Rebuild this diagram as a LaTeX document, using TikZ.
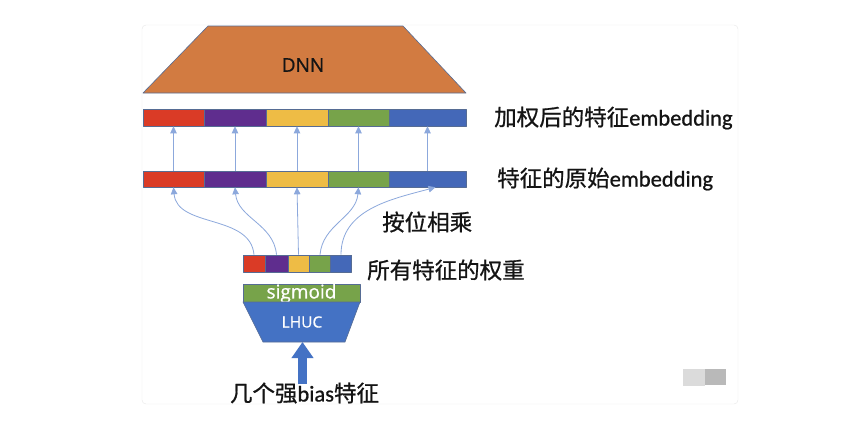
\documentclass[tikz,border=0pt]{standalone}
\usepackage{fontspec}
\setmainfont{Carlito}[FakeBold=0.8]
\newfontfamily\cjk{Noto Sans CJK SC}[FakeBold=0.8]
\newfontfamily\osans{Open Sans}[FakeBold=0.8]
\usepackage{tikz}
\usetikzlibrary{arrows.meta}

\definecolor{dnnorange}{HTML}{D27B41}
\definecolor{segred}{HTML}{DA3B26}
\definecolor{segpurple}{HTML}{5F2D8E}
\definecolor{segyellow}{HTML}{EEBC45}
\definecolor{seggreen}{HTML}{77A34A}
\definecolor{segblue}{HTML}{4468B8}
\definecolor{lhucblue}{HTML}{4472C4}
\definecolor{edgeblue}{HTML}{566C94}
\definecolor{wireblue}{HTML}{8CA8DC}

\tikzset{
  seg/.style={draw=edgeblue, line width=0.6pt, inner sep=0pt, minimum height=#1},
  seg/.default=17pt,
  wire/.style={wireblue, line width=0.8pt, -{Triangle[length=7pt, width=6.5pt]}},
  label/.style={anchor=west, inner sep=0pt, font=\fontsize{22.5pt}{24pt}\selectfont, text=black!92}
}

\begin{document}
\begin{tikzpicture}[x=1pt, y=-1pt, line join=round]
  \useasboundingbox[fill=white] (0,0) rectangle (849,424);
  \draw[gray!18, fill=white, rounded corners=4pt] (142,25) rectangle (738,404);

  % DNN block
  \draw[edgeblue, line width=0.6pt, fill=dnnorange] (208,26) -- (403,26) -- (466,93) -- (143,93) -- cycle;
  \node[text=black!92] (dnn) at (303,65) {\osans\fontsize{19pt}{20pt}\selectfont DNN};

  % weighted embedding
  \node[seg, fill=segred,    minimum width=61pt] (w1) at (173.5,117.5) {};
  \node[seg, fill=segpurple, minimum width=62pt] (w2) at (235,117.5) {};
  \node[seg, fill=segyellow, minimum width=62pt] (w3) at (297,117.5) {};
  \node[seg, fill=seggreen,  minimum width=61pt] (w4) at (358.5,117.5) {};
  \node[seg, fill=segblue,   minimum width=77pt] (w5) at (427.5,117.5) {};

  % original embedding
  \node[seg=16pt, fill=segred,    minimum width=61pt] (o1) at (173.5,179) {};
  \node[seg=16pt, fill=segpurple, minimum width=62pt] (o2) at (235,179) {};
  \node[seg=16pt, fill=segyellow, minimum width=62pt] (o3) at (297,179) {};
  \node[seg=16pt, fill=seggreen,  minimum width=61pt] (o4) at (358.5,179) {};
  \node[seg=16pt, fill=segblue,   minimum width=77pt] (o5) at (427.5,179) {};

  % feature weights
  \node[seg, fill=segred,    minimum width=22pt] (g1) at (254,263.5) {};
  \node[seg, fill=segpurple, minimum width=23pt] (g2) at (276.5,263.5) {};
  \node[seg, fill=segyellow, minimum width=21pt] (g3) at (298.5,263.5) {};
  \node[seg, fill=seggreen,  minimum width=21pt] (g4) at (320,263.5) {};
  \node[seg, fill=segblue,   minimum width=21pt] (g5) at (341,263.5) {};

  % sigmoid + LHUC
  \node[seg=18pt, fill=seggreen, minimum width=117pt] (sig) at (301.5,293) {};
  \node[text=white] at ([yshift=-0.5pt]sig.center) {\osans\fontsize{19pt}{20pt}\selectfont sigmoid};
  \draw[edgeblue, line width=0.6pt, fill=lhucblue] (243,302) -- (360,302) -- (345,342) -- (263,342) -- cycle;
  \node[text=white] (lhuc) at (302,322) {\osans\fontsize{15.5pt}{16pt}\selectfont LHUC};
  \coordinate (lhucin) at (302.5,342);

  % strong bias input
  \node[inner sep=0pt, font=\fontsize{22.5pt}{24pt}\selectfont, text=black!92] (bias) at (304.5,393) {{\cjk 几个强}bias{\cjk 特征}};
  \draw[lhucblue, line width=9pt, -{Triangle[length=16pt, width=21pt]}] (302.5,384) -- (lhucin);

  % element-wise product
  \draw[wire] (g1.north) to[out=95, in=-85] (o1.south);
  \draw[wire] (g2.north) to[out=95, in=-85] (o2.south);
  \draw[wire] (g3.north) -- (o3.south);
  \draw[wire] (g4.north) to[out=85, in=-95] (o4.south);
  \draw[wire] (g5.north) to[out=90, in=195] ([xshift=8pt]o5.south);

  \draw[wire] (o1.north) -- (w1.south);
  \draw[wire] (o2.north) -- (w2.south);
  \draw[wire] (o3.north) -- (w3.south);
  \draw[wire] (o4.north) -- (w4.south);
  \draw[wire] (o5.north) -- (w5.south);

  % labels
  \node[label] (lw) at (494,118) {{\cjk 加权后的特征}embedding};
  \node[label] (lo) at (497,179) {{\cjk 特征的原始}embedding};
  \node[label] (lm) at (382,222) {\cjk 按位相乘};
  \node[label] (lg) at (367,270) {\cjk 所有特征的权重};

  % toolbar remnant
  \fill[gray!28] (683,369) rectangle (705,386);
  \fill[gray!55] (705,369) rectangle (726,385);
\end{tikzpicture}
\end{document}
